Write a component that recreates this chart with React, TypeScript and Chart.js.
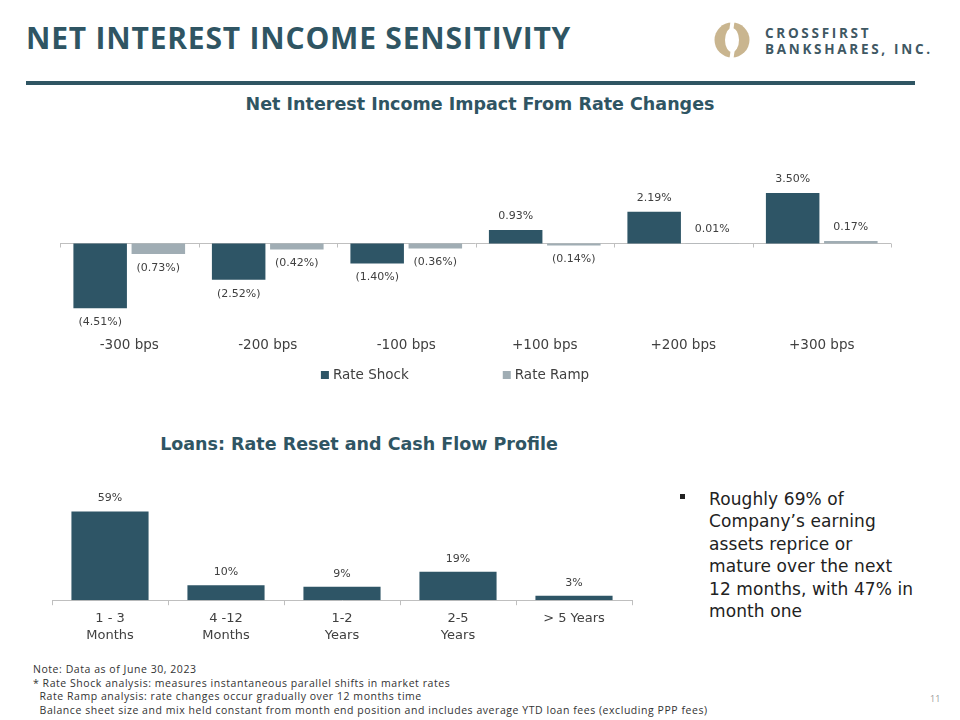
import React, { useEffect, useRef } from "react";
import { Chart, registerables } from "chart.js";

Chart.register(...registerables);

// ---------- data ----------
const rateScenarios = ["-300 bps", "-200 bps", "-100 bps", "+100 bps", "+200 bps", "+300 bps"];
const rateShock = [-4.51, -2.52, -1.4, 0.93, 2.19, 3.5];
const rateRamp = [-0.73, -0.42, -0.36, -0.14, 0.01, 0.17];
const seriesNames = ["Rate Shock", "Rate Ramp"];

const loanBuckets: (string | string[])[] = [["1 - 3", "Months"], ["4 -12", "Months"], ["1-2", "Years"], ["2-5", "Years"], "> 5 Years"];
const loanShares = [59, 10, 9, 19, 3];

const footnotes = [
  "Note: Data as of June 30, 2023",
  "* Rate Shock analysis: measures instantaneous parallel shifts in market rates",
  "  Rate Ramp analysis: rate changes occur gradually over 12 months time",
  "  Balance sheet size and mix held constant from month end position and includes average YTD loan fees (excluding PPP fees)",
];
const bulletLines = ["Roughly 69% of", "Company\u2019s earning", "assets reprice or", "mature over the next", "12 months, with 47% in", "month one"];

// ---------- style ----------
const TEAL = "#2F5563";
const SHOCK = "#2E5566";
const RAMP = "#A0ADB4";
const AXIS = "#BFBFBF";
const LABEL = "#404040";
const FONT = "'DejaVu Sans', 'Noto Sans', sans-serif";
const HEAD_FONT = "'Open Sans', 'Noto Sans', sans-serif";

const fmtRate = (v: number) => (v < 0 ? `(${Math.abs(v).toFixed(2)}%)` : `${v.toFixed(2)}%`);
const fmtShare = (v: number) => `${v}%`;

function valueLabels(fmt: (v: number) => string, offset: number, size: number) {
  return {
    id: "valueLabels",
    afterDatasetsDraw(chart: any) {
      const ctx = chart.ctx;
      ctx.save();
      ctx.font = `${size}px ${FONT}`;
      ctx.fillStyle = LABEL;
      ctx.textAlign = "center";
      ctx.textBaseline = "middle";
      chart.data.datasets.forEach((ds: any, di: number) => {
        const meta = chart.getDatasetMeta(di);
        meta.data.forEach((bar: any, i: number) => {
          const v = ds.data[i] as number;
          const y = v < 0 ? bar.y + offset : bar.y - offset;
          ctx.fillText(fmt(v), bar.x, y);
        });
      });
      ctx.restore();
    },
  };
}

const zeroAxis = {
  id: "zeroAxis",
  beforeDatasetsDraw(chart: any) {
    const { ctx, chartArea, scales } = chart;
    const x = scales.x;
    const y0 = Math.round(scales.y.getPixelForValue(0)) + 0.5;
    ctx.save();
    ctx.strokeStyle = AXIS;
    ctx.lineWidth = 1;
    ctx.beginPath();
    ctx.moveTo(chartArea.left, y0);
    ctx.lineTo(chartArea.right, y0);
    const n = chart.data.labels.length;
    for (let i = 0; i <= n; i++) {
      const px = Math.round(x.getPixelForValue(i - 0.5)) + 0.5;
      ctx.moveTo(px, y0);
      ctx.lineTo(px, y0 + 4);
    }
    ctx.stroke();
    ctx.restore();
  },
};

const rowLegend = {
  id: "rowLegend",
  afterDraw(chart: any) {
    const { ctx } = chart;
    const x = chart.scales.x;
    ctx.save();
    ctx.font = `13.5px ${FONT}`;
    ctx.textBaseline = "middle";
    const box = 8;
    const gap = 4;
    const spacing = 94;
    const items = chart.data.datasets.map((ds: any) => ({
      label: ds.label,
      color: ds.backgroundColor,
      w: ctx.measureText(ds.label).width,
    }));
    const total = items.reduce((s: number, it: any) => s + box + gap + it.w, 0) + spacing * (items.length - 1);
    let cx = chart.width / 2 - total / 2 - 3;
    const cy = x.bottom + 13;
    items.forEach((it: any) => {
      ctx.fillStyle = it.color;
      ctx.fillRect(cx, cy - box / 2, box, box);
      ctx.fillStyle = LABEL;
      ctx.fillText(it.label, cx + box + gap, cy);
      cx += box + gap + it.w + spacing;
    });
    ctx.restore();
  },
};

function RateChart() {
  const ref = useRef<HTMLCanvasElement>(null);
  useEffect(() => {
    const chart = new Chart(ref.current!, {
      type: "bar",
      data: {
        labels: rateScenarios,
        datasets: [
          { label: seriesNames[0], data: rateShock, backgroundColor: SHOCK, categoryPercentage: 0.84, barPercentage: 0.92 },
          { label: seriesNames[1], data: rateRamp, backgroundColor: RAMP, categoryPercentage: 0.84, barPercentage: 0.92 },
        ],
      },
      options: {
        animation: false,
        responsive: false,
        maintainAspectRatio: false,
        layout: { padding: { top: 27, left: 42, right: 7, bottom: 30 } },
        plugins: { legend: { display: false }, tooltip: { enabled: false } },
        scales: {
          x: {
            grid: { display: false, drawTicks: false },
            border: { display: false },
            ticks: { color: LABEL, font: { family: FONT, size: 13.5 }, padding: 8 },
          },
          y: { display: false, min: -6, max: 6 },
        },
      },
      plugins: [zeroAxis, valueLabels(fmtRate, 14, 11), rowLegend],
    });
    return () => chart.destroy();
  }, []);
  return <canvas ref={ref} width={880} height={262} style={{ position: "absolute", left: 18, top: 130, width: 880, height: 262 }} />;
}

function LoanChart() {
  const ref = useRef<HTMLCanvasElement>(null);
  useEffect(() => {
    const chart = new Chart(ref.current!, {
      type: "bar",
      data: {
        labels: loanBuckets,
        datasets: [{ label: "Loans", data: loanShares, backgroundColor: SHOCK, categoryPercentage: 1, barPercentage: 0.665 }],
      },
      options: {
        animation: false,
        responsive: false,
        maintainAspectRatio: false,
        layout: { padding: { top: 15, left: 40, right: 10, bottom: 2 } },
        plugins: { legend: { display: false }, tooltip: { enabled: false } },
        scales: {
          x: {
            grid: { display: true, drawOnChartArea: false, drawTicks: true, tickLength: 5, color: AXIS, offset: true },
            border: { display: true, color: AXIS },
            ticks: { color: LABEL, font: { family: FONT, size: 13, lineHeight: 1.3 }, padding: 5 },
          },
          y: { display: false, min: 0, max: 70 },
        },
      },
      plugins: [valueLabels(fmtShare, 13, 11)],
    });
    return () => chart.destroy();
  }, []);
  return <canvas ref={ref} width={630} height={171} style={{ position: "absolute", left: 12, top: 480, width: 630, height: 171 }} />;
}

function Logo() {
  return (
    <div style={{ position: "absolute", left: 713, top: 21 }}>
      <svg width={40} height={40} viewBox="0 0 40 40" style={{ position: "absolute", left: 0, top: 0 }}>
        <circle cx={19} cy={19} r={17.5} fill="#C9B58F" />
        <ellipse cx={19} cy={19} rx={7} ry={12} fill="#ffffff" />
        <rect x={17} y={0} width={4} height={9} fill="#ffffff" transform="rotate(8 19 4)" />
        <rect x={17} y={29} width={4} height={10} fill="#ffffff" transform="rotate(8 19 34)" />
      </svg>
      <div
        style={{
          position: "absolute",
          left: 52,
          top: 4,
          fontFamily: HEAD_FONT,
          fontWeight: 700,
          fontSize: 13.5,
          lineHeight: "16px",
          letterSpacing: 2.7,
          color: "#3F5863",
          whiteSpace: "nowrap",
        }}
      >
        CROSSFIRST
        <br />
        BANKSHARES, INC.
      </div>
    </div>
  );
}

export default function App() {
  return (
    <div style={{ position: "fixed", left: 0, top: 0, width: 960, height: 720, background: "#ffffff", overflow: "hidden" }}>
      <div
        style={{
          position: "absolute",
          left: 26,
          top: 23,
          fontFamily: HEAD_FONT,
          fontWeight: 700,
          fontSize: 30,
          lineHeight: "30px",
          letterSpacing: 0.8,
          color: TEAL,
          whiteSpace: "nowrap",
        }}
      >
        NET INTEREST INCOME SENSITIVITY
      </div>
      <Logo />
      <div style={{ position: "absolute", left: 26, top: 81, width: 889, height: 3.5, background: TEAL }} />

      <div
        style={{
          position: "absolute",
          left: 0,
          width: 960,
          top: 96,
          textAlign: "center",
          fontFamily: FONT,
          fontWeight: 700,
          fontSize: 17.5,
          lineHeight: "17.5px",
          color: TEAL,
        }}
      >
        Net Interest Income Impact From Rate Changes
      </div>
      <RateChart />

      <div
        style={{
          position: "absolute",
          left: 159,
          width: 400,
          top: 436,
          textAlign: "center",
          fontFamily: FONT,
          fontWeight: 700,
          fontSize: 17.5,
          lineHeight: "17.5px",
          color: TEAL,
          whiteSpace: "nowrap",
        }}
      >
        Loans: Rate Reset and Cash Flow Profile
      </div>
      <LoanChart />

      <div style={{ position: "absolute", left: 680, top: 494, width: 5, height: 5, background: "#222" }} />
      <div
        style={{
          position: "absolute",
          left: 709,
          top: 488,
          fontFamily: FONT,
          fontSize: 17,
          lineHeight: "22.4px",
          letterSpacing: 0.1,
          color: "#222222",
          whiteSpace: "nowrap",
        }}
      >
        {bulletLines.map((l, i) => (
          <div key={i}>{l}</div>
        ))}
      </div>

      <div
        style={{
          position: "absolute",
          left: 33,
          top: 663,
          fontFamily: HEAD_FONT,
          fontSize: 10.5,
          lineHeight: "13.7px",
          letterSpacing: 0.55,
          color: "#333333",
          whiteSpace: "pre",
        }}
      >
        {footnotes.map((l, i) => (
          <div key={i}>{l}</div>
        ))}
      </div>
      <div style={{ position: "absolute", left: 930, top: 692, fontFamily: HEAD_FONT, fontSize: 9, color: "#999999" }}>11</div>
    </div>
  );
}
